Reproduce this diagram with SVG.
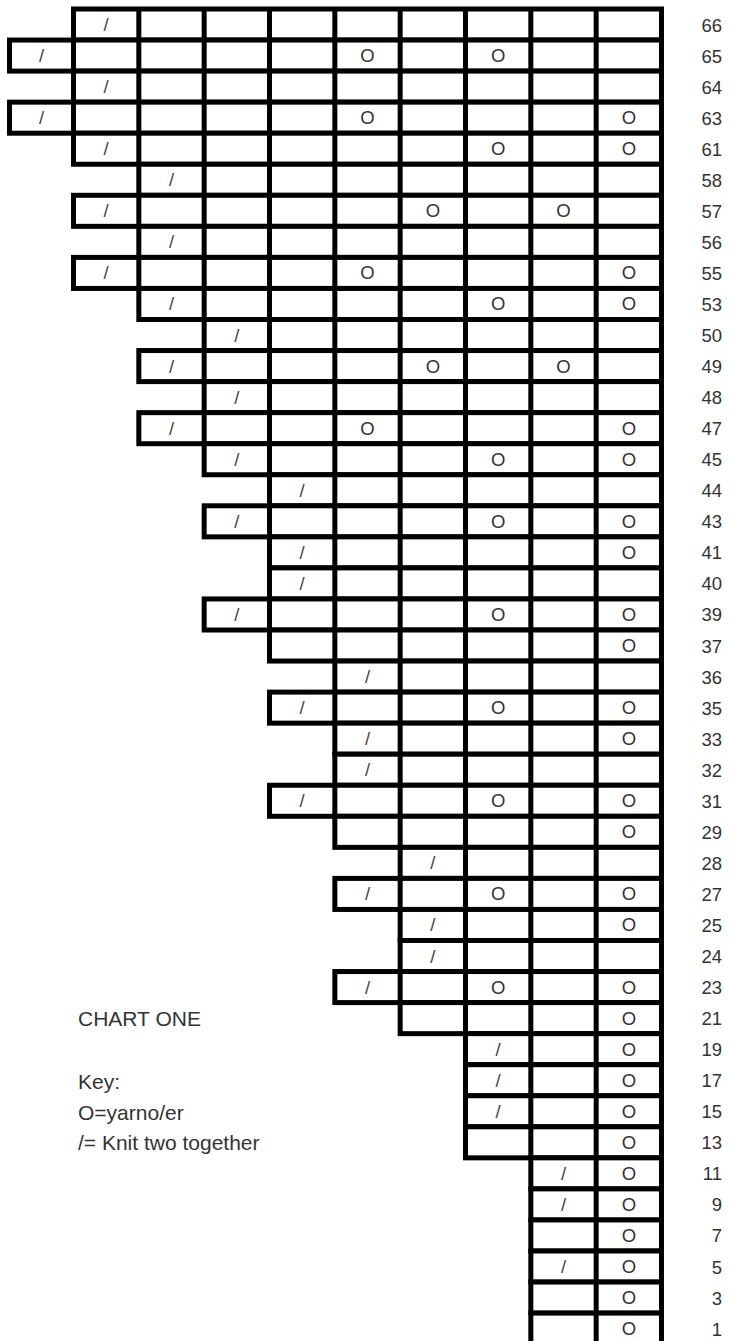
<svg xmlns="http://www.w3.org/2000/svg" xmlns:xlink="http://www.w3.org/1999/xlink" width="730" height="1341" viewBox="0 0 730 1341">
<style>
.grid{fill:#fff;stroke:#000;stroke-width:5}
.grid path{fill:none}
.t{font-family:"Liberation Sans",Arial,sans-serif;font-size:18.5px;fill:#333}
.m{text-anchor:middle}
.sl{fill:#444}
.n{text-anchor:end}
.lg{font-family:"Liberation Sans",Arial,sans-serif;font-size:21px;fill:#333}
</style>
<defs>
<g id="k0" class="grid"><rect x="9.5" y="0" width="652" height="31.05"/><path d="M73.5 0v31.05M138.83 0v31.05M204.17 0v31.05M269.5 0v31.05M334.83 0v31.05M400.17 0v31.05M465.5 0v31.05M530.83 0v31.05M596.17 0v31.05"/></g>
<g id="k1" class="grid"><rect x="73.5" y="0" width="588" height="31.05"/><path d="M138.83 0v31.05M204.17 0v31.05M269.5 0v31.05M334.83 0v31.05M400.17 0v31.05M465.5 0v31.05M530.83 0v31.05M596.17 0v31.05"/></g>
<g id="k2" class="grid"><rect x="138.83" y="0" width="522.67" height="31.05"/><path d="M204.17 0v31.05M269.5 0v31.05M334.83 0v31.05M400.17 0v31.05M465.5 0v31.05M530.83 0v31.05M596.17 0v31.05"/></g>
<g id="k3" class="grid"><rect x="204.17" y="0" width="457.33" height="31.05"/><path d="M269.5 0v31.05M334.83 0v31.05M400.17 0v31.05M465.5 0v31.05M530.83 0v31.05M596.17 0v31.05"/></g>
<g id="k4" class="grid"><rect x="269.5" y="0" width="392" height="31.05"/><path d="M334.83 0v31.05M400.17 0v31.05M465.5 0v31.05M530.83 0v31.05M596.17 0v31.05"/></g>
<g id="k5" class="grid"><rect x="334.83" y="0" width="326.67" height="31.05"/><path d="M400.17 0v31.05M465.5 0v31.05M530.83 0v31.05M596.17 0v31.05"/></g>
<g id="k6" class="grid"><rect x="400.17" y="0" width="261.33" height="31.05"/><path d="M465.5 0v31.05M530.83 0v31.05M596.17 0v31.05"/></g>
<g id="k7" class="grid"><rect x="465.5" y="0" width="196" height="31.05"/><path d="M530.83 0v31.05M596.17 0v31.05"/></g>
<g id="k8" class="grid"><rect x="530.83" y="0" width="130.67" height="31.05"/><path d="M596.17 0v31.05"/></g>
</defs>
<g id="chart">
<g id="row66" transform="translate(0,9)"><use xlink:href="#k1" href="#k1"/><text class="t m sl" x="106.17" y="22">/</text><text class="t n" x="722" y="22.5">66</text></g>
<g id="row65" transform="translate(0,40.05)"><use xlink:href="#k0" href="#k0"/><text class="t m sl" x="41.5" y="22">/</text><text class="t m" x="367.5" y="22">O</text><text class="t m" x="498.17" y="22">O</text><text class="t n" x="722" y="22.5">65</text></g>
<g id="row64" transform="translate(0,71.1)"><use xlink:href="#k1" href="#k1"/><text class="t m sl" x="106.17" y="22">/</text><text class="t n" x="722" y="22.5">64</text></g>
<g id="row63" transform="translate(0,102.15)"><use xlink:href="#k0" href="#k0"/><text class="t m sl" x="41.5" y="22">/</text><text class="t m" x="367.5" y="22">O</text><text class="t m" x="628.83" y="22">O</text><text class="t n" x="722" y="22.5">63</text></g>
<g id="row61" transform="translate(0,133.2)"><use xlink:href="#k1" href="#k1"/><text class="t m sl" x="106.17" y="22">/</text><text class="t m" x="498.17" y="22">O</text><text class="t m" x="628.83" y="22">O</text><text class="t n" x="722" y="22.5">61</text></g>
<g id="row58" transform="translate(0,164.25)"><use xlink:href="#k2" href="#k2"/><text class="t m sl" x="171.5" y="22">/</text><text class="t n" x="722" y="22.5">58</text></g>
<g id="row57" transform="translate(0,195.3)"><use xlink:href="#k1" href="#k1"/><text class="t m sl" x="106.17" y="22">/</text><text class="t m" x="432.83" y="22">O</text><text class="t m" x="563.5" y="22">O</text><text class="t n" x="722" y="22.5">57</text></g>
<g id="row56" transform="translate(0,226.35)"><use xlink:href="#k2" href="#k2"/><text class="t m sl" x="171.5" y="22">/</text><text class="t n" x="722" y="22.5">56</text></g>
<g id="row55" transform="translate(0,257.4)"><use xlink:href="#k1" href="#k1"/><text class="t m sl" x="106.17" y="22">/</text><text class="t m" x="367.5" y="22">O</text><text class="t m" x="628.83" y="22">O</text><text class="t n" x="722" y="22.5">55</text></g>
<g id="row53" transform="translate(0,288.45)"><use xlink:href="#k2" href="#k2"/><text class="t m sl" x="171.5" y="22">/</text><text class="t m" x="498.17" y="22">O</text><text class="t m" x="628.83" y="22">O</text><text class="t n" x="722" y="22.5">53</text></g>
<g id="row50" transform="translate(0,319.5)"><use xlink:href="#k3" href="#k3"/><text class="t m sl" x="236.83" y="22">/</text><text class="t n" x="722" y="22.5">50</text></g>
<g id="row49" transform="translate(0,350.55)"><use xlink:href="#k2" href="#k2"/><text class="t m sl" x="171.5" y="22">/</text><text class="t m" x="432.83" y="22">O</text><text class="t m" x="563.5" y="22">O</text><text class="t n" x="722" y="22.5">49</text></g>
<g id="row48" transform="translate(0,381.6)"><use xlink:href="#k3" href="#k3"/><text class="t m sl" x="236.83" y="22">/</text><text class="t n" x="722" y="22.5">48</text></g>
<g id="row47" transform="translate(0,412.65)"><use xlink:href="#k2" href="#k2"/><text class="t m sl" x="171.5" y="22">/</text><text class="t m" x="367.5" y="22">O</text><text class="t m" x="628.83" y="22">O</text><text class="t n" x="722" y="22.5">47</text></g>
<g id="row45" transform="translate(0,443.7)"><use xlink:href="#k3" href="#k3"/><text class="t m sl" x="236.83" y="22">/</text><text class="t m" x="498.17" y="22">O</text><text class="t m" x="628.83" y="22">O</text><text class="t n" x="722" y="22.5">45</text></g>
<g id="row44" transform="translate(0,474.75)"><use xlink:href="#k4" href="#k4"/><text class="t m sl" x="302.17" y="22">/</text><text class="t n" x="722" y="22.5">44</text></g>
<g id="row43" transform="translate(0,505.8)"><use xlink:href="#k3" href="#k3"/><text class="t m sl" x="236.83" y="22">/</text><text class="t m" x="498.17" y="22">O</text><text class="t m" x="628.83" y="22">O</text><text class="t n" x="722" y="22.5">43</text></g>
<g id="row41" transform="translate(0,536.85)"><use xlink:href="#k4" href="#k4"/><text class="t m sl" x="302.17" y="22">/</text><text class="t m" x="628.83" y="22">O</text><text class="t n" x="722" y="22.5">41</text></g>
<g id="row40" transform="translate(0,567.9)"><use xlink:href="#k4" href="#k4"/><text class="t m sl" x="302.17" y="22">/</text><text class="t n" x="722" y="22.5">40</text></g>
<g id="row39" transform="translate(0,598.95)"><use xlink:href="#k3" href="#k3"/><text class="t m sl" x="236.83" y="22">/</text><text class="t m" x="498.17" y="22">O</text><text class="t m" x="628.83" y="22">O</text><text class="t n" x="722" y="22.5">39</text></g>
<g id="row37" transform="translate(0,630)"><use xlink:href="#k4" href="#k4"/><text class="t m" x="628.83" y="22">O</text><text class="t n" x="722" y="22.5">37</text></g>
<g id="row36" transform="translate(0,661.05)"><use xlink:href="#k5" href="#k5"/><text class="t m sl" x="367.5" y="22">/</text><text class="t n" x="722" y="22.5">36</text></g>
<g id="row35" transform="translate(0,692.1)"><use xlink:href="#k4" href="#k4"/><text class="t m sl" x="302.17" y="22">/</text><text class="t m" x="498.17" y="22">O</text><text class="t m" x="628.83" y="22">O</text><text class="t n" x="722" y="22.5">35</text></g>
<g id="row33" transform="translate(0,723.15)"><use xlink:href="#k5" href="#k5"/><text class="t m sl" x="367.5" y="22">/</text><text class="t m" x="628.83" y="22">O</text><text class="t n" x="722" y="22.5">33</text></g>
<g id="row32" transform="translate(0,754.2)"><use xlink:href="#k5" href="#k5"/><text class="t m sl" x="367.5" y="22">/</text><text class="t n" x="722" y="22.5">32</text></g>
<g id="row31" transform="translate(0,785.25)"><use xlink:href="#k4" href="#k4"/><text class="t m sl" x="302.17" y="22">/</text><text class="t m" x="498.17" y="22">O</text><text class="t m" x="628.83" y="22">O</text><text class="t n" x="722" y="22.5">31</text></g>
<g id="row29" transform="translate(0,816.3)"><use xlink:href="#k5" href="#k5"/><text class="t m" x="628.83" y="22">O</text><text class="t n" x="722" y="22.5">29</text></g>
<g id="row28" transform="translate(0,847.35)"><use xlink:href="#k6" href="#k6"/><text class="t m sl" x="432.83" y="22">/</text><text class="t n" x="722" y="22.5">28</text></g>
<g id="row27" transform="translate(0,878.4)"><use xlink:href="#k5" href="#k5"/><text class="t m sl" x="367.5" y="22">/</text><text class="t m" x="498.17" y="22">O</text><text class="t m" x="628.83" y="22">O</text><text class="t n" x="722" y="22.5">27</text></g>
<g id="row25" transform="translate(0,909.45)"><use xlink:href="#k6" href="#k6"/><text class="t m sl" x="432.83" y="22">/</text><text class="t m" x="628.83" y="22">O</text><text class="t n" x="722" y="22.5">25</text></g>
<g id="row24" transform="translate(0,940.5)"><use xlink:href="#k6" href="#k6"/><text class="t m sl" x="432.83" y="22">/</text><text class="t n" x="722" y="22.5">24</text></g>
<g id="row23" transform="translate(0,971.55)"><use xlink:href="#k5" href="#k5"/><text class="t m sl" x="367.5" y="22">/</text><text class="t m" x="498.17" y="22">O</text><text class="t m" x="628.83" y="22">O</text><text class="t n" x="722" y="22.5">23</text></g>
<g id="row21" transform="translate(0,1002.6)"><use xlink:href="#k6" href="#k6"/><text class="t m" x="628.83" y="22">O</text><text class="t n" x="722" y="22.5">21</text></g>
<g id="row19" transform="translate(0,1033.65)"><use xlink:href="#k7" href="#k7"/><text class="t m sl" x="498.17" y="22">/</text><text class="t m" x="628.83" y="22">O</text><text class="t n" x="722" y="22.5">19</text></g>
<g id="row17" transform="translate(0,1064.7)"><use xlink:href="#k7" href="#k7"/><text class="t m sl" x="498.17" y="22">/</text><text class="t m" x="628.83" y="22">O</text><text class="t n" x="722" y="22.5">17</text></g>
<g id="row15" transform="translate(0,1095.75)"><use xlink:href="#k7" href="#k7"/><text class="t m sl" x="498.17" y="22">/</text><text class="t m" x="628.83" y="22">O</text><text class="t n" x="722" y="22.5">15</text></g>
<g id="row13" transform="translate(0,1126.8)"><use xlink:href="#k7" href="#k7"/><text class="t m" x="628.83" y="22">O</text><text class="t n" x="722" y="22.5">13</text></g>
<g id="row11" transform="translate(0,1157.85)"><use xlink:href="#k8" href="#k8"/><text class="t m sl" x="563.5" y="22">/</text><text class="t m" x="628.83" y="22">O</text><text class="t n" x="722" y="22.5">11</text></g>
<g id="row9" transform="translate(0,1188.9)"><use xlink:href="#k8" href="#k8"/><text class="t m sl" x="563.5" y="22">/</text><text class="t m" x="628.83" y="22">O</text><text class="t n" x="722" y="22.5">9</text></g>
<g id="row7" transform="translate(0,1219.95)"><use xlink:href="#k8" href="#k8"/><text class="t m" x="628.83" y="22">O</text><text class="t n" x="722" y="22.5">7</text></g>
<g id="row5" transform="translate(0,1251)"><use xlink:href="#k8" href="#k8"/><text class="t m sl" x="563.5" y="22">/</text><text class="t m" x="628.83" y="22">O</text><text class="t n" x="722" y="22.5">5</text></g>
<g id="row3" transform="translate(0,1282.05)"><use xlink:href="#k8" href="#k8"/><text class="t m" x="628.83" y="22">O</text><text class="t n" x="722" y="22.5">3</text></g>
<g id="row1" transform="translate(0,1313.1)"><use xlink:href="#k8" href="#k8"/><text class="t m" x="628.83" y="22">O</text><text class="t n" x="722" y="22.5">1</text></g>
</g>
<g id="legend">
<text class="lg" x="78" y="1026">CHART ONE</text>
<text class="lg" x="78" y="1088.5">Key:</text>
<text class="lg" x="78" y="1119.5">O=yarno/er</text>
<text class="lg" x="78" y="1150">/= Knit two together</text>
</g>
</svg>
